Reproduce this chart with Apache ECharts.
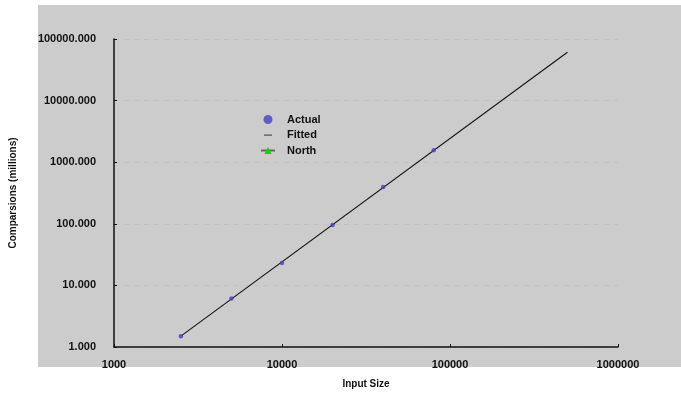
<!DOCTYPE html>
<html><head><meta charset="utf-8">
<script src="https://cdn.jsdelivr.net/npm/echarts@6/dist/echarts.min.js"></script>
<style>html,body{margin:0;padding:0;background:#fff}#c{width:681px;height:394px}</style>
</head><body><div id="c"></div>
<script>
const inputSizes = [2500, 5000, 10000, 20000, 40000, 80000];
const actualValues = [1.5, 6.1, 23.2, 96, 396, 1560];
const fittedX = [2500, 500000];
const fittedY = [1.5, 61000];
const northData = [];
const xTicks = [1000, 10000, 100000, 1000000];
const yTicks = [1, 10, 100, 1000, 10000, 100000];

const chart = echarts.init(document.getElementById('c'), null, {renderer: 'canvas'});
const font = {fontFamily: 'Liberation Sans, Arial, Helvetica, sans-serif', fontWeight: 'bold', fontSize: 11, color: '#111'};
const dashIcon = 'path://M0,0h0.01v0.01h-0.01z M14,9h0.01v0.01h-0.01z M3,4h8v1.2h-8z';
chart.setOption({
  animation: false,
  backgroundColor: '#ffffff',
  graphic: [{type: 'rect', shape: {x: 38, y: 5, width: 643, height: 362}, style: {fill: '#cccccc'}, z: -10, silent: true}],
  grid: {left: 113, right: 63, top: 39, bottom: 47},
  legend: {
    orient: 'vertical', left: 255, top: 109, itemWidth: 14, itemHeight: 9, itemGap: 4.5,
    textStyle: Object.assign({}, font, {fontSize: 11, padding: [0, 0, 0, 7]}),
    data: ['Actual', {name: 'Fitted', icon: dashIcon, itemStyle: {color: '#555'}}, 'North']
  },
  xAxis: {
    type: 'log', logBase: 10, min: 1000, max: 1000000,
    name: 'Input Size', nameLocation: 'middle', nameGap: 32,
    nameTextStyle: Object.assign({}, font, {fontSize: 10}),
    axisLine: {lineStyle: {color: '#111', width: 1.5}},
    axisTick: {inside: true, length: 3, lineStyle: {color: '#111'}},
    axisLabel: Object.assign({}, font, {margin: 12, formatter: v => String(Math.round(v))}),
    splitLine: {show: false}, minorTick: {show: false}
  },
  yAxis: {
    type: 'log', logBase: 10, min: 1, max: 100000,
    name: 'Comparsions (millions)', nameLocation: 'middle', nameGap: 96, nameRotate: 90,
    nameTextStyle: Object.assign({}, font, {fontSize: 10}),
    axisLine: {show: true, lineStyle: {color: '#111', width: 1.5}},
    axisTick: {show: true, inside: true, length: 3, lineStyle: {color: '#111'}},
    axisLabel: Object.assign({}, font, {margin: 18, formatter: v => Number(v).toFixed(3)}),
    splitLine: {show: true, lineStyle: {color: '#c2c2c2', type: [5, 5], width: 1}}
  },
  series: [
    {name: 'Actual', type: 'scatter', symbol: 'circle', symbolSize: 4.5,
     itemStyle: {color: '#4242c4'}, z: 5,
     data: inputSizes.map((x, i) => [x, actualValues[i]])},
    {name: 'Fitted', type: 'line', symbol: 'none', showSymbol: false,
     lineStyle: {color: '#111', width: 1.1}, itemStyle: {color: '#555'},
     data: fittedX.map((x, i) => [x, fittedY[i]])},
    {name: 'North', type: 'line', symbol: 'triangle', symbolSize: 8,
     itemStyle: {color: '#00dd00'}, lineStyle: {color: '#666', width: 1},
     data: northData}
  ]
});
</script></body></html>
